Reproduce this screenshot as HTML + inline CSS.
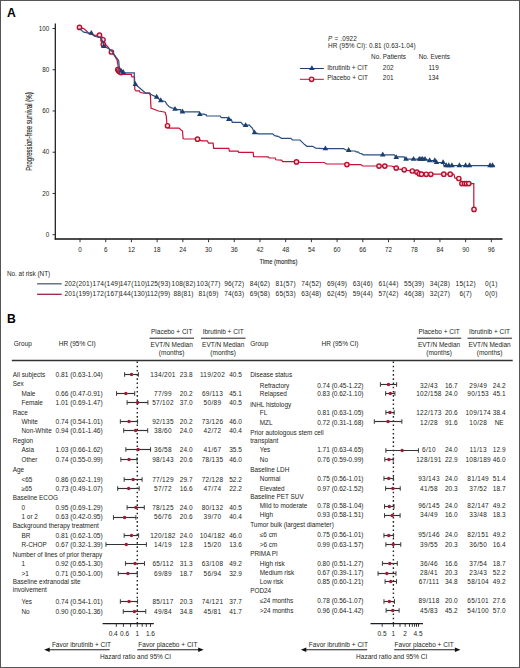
<!DOCTYPE html>
<html><head><meta charset="utf-8"><title>Figure</title>
<style>html,body{margin:0;padding:0;background:#fff;}svg{display:block;}</style>
</head><body>
<svg width="520" height="668" viewBox="0 0 520 668" font-family='"Liberation Sans", sans-serif'><rect x="0.5" y="0.5" width="519" height="667" fill="none" stroke="#555" stroke-width="1"/>
<text x="6.90" y="16.90" font-size="12.2" font-weight="bold" fill="#000">A</text>
<line x1="55.30" y1="23.50" x2="55.30" y2="239.60" stroke="#111" stroke-width="1.2"/>
<line x1="54.70" y1="239.00" x2="502.50" y2="239.00" stroke="#111" stroke-width="1.3"/>
<line x1="52.50" y1="234.70" x2="55.30" y2="234.70" stroke="#231f20" stroke-width="0.9"/>
<text x="49.20" y="236.90" font-size="6.3" text-anchor="end" fill="#231f20">0</text>
<line x1="52.50" y1="193.46" x2="55.30" y2="193.46" stroke="#231f20" stroke-width="0.9"/>
<text x="49.20" y="195.66" font-size="6.3" text-anchor="end" fill="#231f20">20</text>
<line x1="52.50" y1="152.22" x2="55.30" y2="152.22" stroke="#231f20" stroke-width="0.9"/>
<text x="49.20" y="154.42" font-size="6.3" text-anchor="end" fill="#231f20">40</text>
<line x1="52.50" y1="110.98" x2="55.30" y2="110.98" stroke="#231f20" stroke-width="0.9"/>
<text x="49.20" y="113.18" font-size="6.3" text-anchor="end" fill="#231f20">60</text>
<line x1="52.50" y1="69.74" x2="55.30" y2="69.74" stroke="#231f20" stroke-width="0.9"/>
<text x="49.20" y="71.94" font-size="6.3" text-anchor="end" fill="#231f20">80</text>
<line x1="52.50" y1="28.50" x2="55.30" y2="28.50" stroke="#231f20" stroke-width="0.9"/>
<text x="49.20" y="30.70" font-size="6.3" text-anchor="end" fill="#231f20">100</text>
<line x1="80.00" y1="239.00" x2="80.00" y2="242.20" stroke="#231f20" stroke-width="0.9"/>
<text x="80.00" y="252.10" font-size="6.3" text-anchor="middle" fill="#231f20">0</text>
<line x1="105.71" y1="239.00" x2="105.71" y2="242.20" stroke="#231f20" stroke-width="0.9"/>
<text x="105.71" y="252.10" font-size="6.3" text-anchor="middle" fill="#231f20">6</text>
<line x1="131.42" y1="239.00" x2="131.42" y2="242.20" stroke="#231f20" stroke-width="0.9"/>
<text x="131.42" y="252.10" font-size="6.3" text-anchor="middle" fill="#231f20">12</text>
<line x1="157.13" y1="239.00" x2="157.13" y2="242.20" stroke="#231f20" stroke-width="0.9"/>
<text x="157.13" y="252.10" font-size="6.3" text-anchor="middle" fill="#231f20">18</text>
<line x1="182.84" y1="239.00" x2="182.84" y2="242.20" stroke="#231f20" stroke-width="0.9"/>
<text x="182.84" y="252.10" font-size="6.3" text-anchor="middle" fill="#231f20">24</text>
<line x1="208.55" y1="239.00" x2="208.55" y2="242.20" stroke="#231f20" stroke-width="0.9"/>
<text x="208.55" y="252.10" font-size="6.3" text-anchor="middle" fill="#231f20">30</text>
<line x1="234.26" y1="239.00" x2="234.26" y2="242.20" stroke="#231f20" stroke-width="0.9"/>
<text x="234.26" y="252.10" font-size="6.3" text-anchor="middle" fill="#231f20">36</text>
<line x1="259.97" y1="239.00" x2="259.97" y2="242.20" stroke="#231f20" stroke-width="0.9"/>
<text x="259.97" y="252.10" font-size="6.3" text-anchor="middle" fill="#231f20">42</text>
<line x1="285.68" y1="239.00" x2="285.68" y2="242.20" stroke="#231f20" stroke-width="0.9"/>
<text x="285.68" y="252.10" font-size="6.3" text-anchor="middle" fill="#231f20">48</text>
<line x1="311.39" y1="239.00" x2="311.39" y2="242.20" stroke="#231f20" stroke-width="0.9"/>
<text x="311.39" y="252.10" font-size="6.3" text-anchor="middle" fill="#231f20">54</text>
<line x1="337.10" y1="239.00" x2="337.10" y2="242.20" stroke="#231f20" stroke-width="0.9"/>
<text x="337.10" y="252.10" font-size="6.3" text-anchor="middle" fill="#231f20">60</text>
<line x1="362.81" y1="239.00" x2="362.81" y2="242.20" stroke="#231f20" stroke-width="0.9"/>
<text x="362.81" y="252.10" font-size="6.3" text-anchor="middle" fill="#231f20">66</text>
<line x1="388.52" y1="239.00" x2="388.52" y2="242.20" stroke="#231f20" stroke-width="0.9"/>
<text x="388.52" y="252.10" font-size="6.3" text-anchor="middle" fill="#231f20">72</text>
<line x1="414.23" y1="239.00" x2="414.23" y2="242.20" stroke="#231f20" stroke-width="0.9"/>
<text x="414.23" y="252.10" font-size="6.3" text-anchor="middle" fill="#231f20">78</text>
<line x1="439.94" y1="239.00" x2="439.94" y2="242.20" stroke="#231f20" stroke-width="0.9"/>
<text x="439.94" y="252.10" font-size="6.3" text-anchor="middle" fill="#231f20">84</text>
<line x1="465.65" y1="239.00" x2="465.65" y2="242.20" stroke="#231f20" stroke-width="0.9"/>
<text x="465.65" y="252.10" font-size="6.3" text-anchor="middle" fill="#231f20">90</text>
<line x1="491.36" y1="239.00" x2="491.36" y2="242.20" stroke="#231f20" stroke-width="0.9"/>
<text x="491.36" y="252.10" font-size="6.3" text-anchor="middle" fill="#231f20">96</text>
<text x="259.50" y="264.10" font-size="8" textLength="38" lengthAdjust="spacingAndGlyphs" stroke="#231f20" stroke-width="0.12" fill="#231f20">Time (months)</text>
<text x="-39.3" y="0" font-size="8.2" textLength="78.4" lengthAdjust="spacingAndGlyphs" fill="#231f20" stroke="#231f20" stroke-width="0.12" transform="translate(32.0,131.4) rotate(-90)">Progression-free survival (%)</text>
<polyline points="79.5,27.4 83.7,28.6 86.0,30.5 89.0,33.5 94.5,35.3 99.0,35.0 101.0,35.4 102.9,38.3 103.3,42.5 108.0,47.0 111.4,52.0 114.0,55.0 117.0,60.0 118.1,66.0 118.3,70.0 119.2,73.5 121.5,74.4 131.3,74.4 131.9,76.9 134.5,76.9 134.8,89.6 136.0,90.8 139.4,90.8 140.2,92.5 144.0,93.1 149.2,93.1 150.4,95.4 151.0,108.1 153.8,109.2 158.5,111.0 164.2,112.0 165.2,112.5 166.3,116.0 166.9,124.6 169.2,128.1 179.0,128.1 180.8,129.8 182.5,131.0 183.1,138.5 184.2,139.0 197.5,139.0 201.5,140.8 207.3,140.8 208.5,143.1 213.1,143.1 213.7,148.3 228.8,148.3 229.4,151.2 238.1,151.2 238.7,152.3 253.1,152.3 253.7,156.6 268.1,156.9 269.2,158.0 275.2,158.0 275.8,159.8 281.5,160.2 282.7,161.7 296.5,161.7 301.2,162.5 324.2,162.5 326.5,164.0 343.5,164.0 346.9,164.6 360.8,164.6 362.5,166.0 391.5,166.0 393.8,166.9 396.2,168.1 399.6,169.2 404.2,169.8 407.7,170.4 412.3,171.0 416.9,172.1 419.2,173.8 421.5,174.2 453.8,174.2 455.0,178.1 458.8,178.5 460.6,180.0 461.9,183.6 473.8,183.6 473.8,209.0" fill="none" stroke="#c41236" stroke-width="1.2" stroke-linejoin="miter"/>
<circle cx="79.50" cy="27.40" r="2.15" fill="#f8dde3" stroke="#b8102f" stroke-width="1.4"/>
<circle cx="99.50" cy="35.20" r="2.15" fill="#f8dde3" stroke="#b8102f" stroke-width="1.4"/>
<circle cx="103.00" cy="39.80" r="2.15" fill="#f8dde3" stroke="#b8102f" stroke-width="1.4"/>
<circle cx="103.30" cy="44.40" r="2.15" fill="#f8dde3" stroke="#b8102f" stroke-width="1.4"/>
<circle cx="111.40" cy="52.00" r="2.15" fill="#f8dde3" stroke="#b8102f" stroke-width="1.4"/>
<circle cx="117.80" cy="69.50" r="2.15" fill="#f8dde3" stroke="#b8102f" stroke-width="1.4"/>
<circle cx="118.60" cy="70.80" r="2.15" fill="#f8dde3" stroke="#b8102f" stroke-width="1.4"/>
<circle cx="119.80" cy="71.80" r="2.15" fill="#f8dde3" stroke="#b8102f" stroke-width="1.4"/>
<circle cx="121.00" cy="72.60" r="2.15" fill="#f8dde3" stroke="#b8102f" stroke-width="1.4"/>
<circle cx="167.50" cy="125.80" r="2.15" fill="#f8dde3" stroke="#b8102f" stroke-width="1.4"/>
<circle cx="197.50" cy="139.20" r="2.15" fill="#f8dde3" stroke="#b8102f" stroke-width="1.4"/>
<circle cx="296.50" cy="161.90" r="2.15" fill="#f8dde3" stroke="#b8102f" stroke-width="1.4"/>
<circle cx="346.90" cy="164.60" r="2.15" fill="#f8dde3" stroke="#b8102f" stroke-width="1.4"/>
<circle cx="379.00" cy="166.10" r="2.15" fill="#f8dde3" stroke="#b8102f" stroke-width="1.4"/>
<circle cx="384.80" cy="166.10" r="2.15" fill="#f8dde3" stroke="#b8102f" stroke-width="1.4"/>
<circle cx="396.20" cy="168.10" r="2.15" fill="#f8dde3" stroke="#b8102f" stroke-width="1.4"/>
<circle cx="404.20" cy="169.80" r="2.15" fill="#f8dde3" stroke="#b8102f" stroke-width="1.4"/>
<circle cx="412.30" cy="171.00" r="2.15" fill="#f8dde3" stroke="#b8102f" stroke-width="1.4"/>
<circle cx="416.90" cy="172.10" r="2.15" fill="#f8dde3" stroke="#b8102f" stroke-width="1.4"/>
<circle cx="419.20" cy="173.80" r="2.15" fill="#f8dde3" stroke="#b8102f" stroke-width="1.4"/>
<circle cx="421.50" cy="174.20" r="2.15" fill="#f8dde3" stroke="#b8102f" stroke-width="1.4"/>
<circle cx="426.20" cy="174.30" r="2.15" fill="#f8dde3" stroke="#b8102f" stroke-width="1.4"/>
<circle cx="430.80" cy="174.30" r="2.15" fill="#f8dde3" stroke="#b8102f" stroke-width="1.4"/>
<circle cx="443.80" cy="174.20" r="2.15" fill="#f8dde3" stroke="#b8102f" stroke-width="1.4"/>
<circle cx="450.20" cy="174.20" r="2.15" fill="#f8dde3" stroke="#b8102f" stroke-width="1.4"/>
<circle cx="458.80" cy="178.50" r="2.15" fill="#f8dde3" stroke="#b8102f" stroke-width="1.4"/>
<circle cx="461.90" cy="183.60" r="2.15" fill="#f8dde3" stroke="#b8102f" stroke-width="1.4"/>
<circle cx="464.50" cy="183.60" r="2.15" fill="#f8dde3" stroke="#b8102f" stroke-width="1.4"/>
<circle cx="466.50" cy="183.60" r="2.15" fill="#f8dde3" stroke="#b8102f" stroke-width="1.4"/>
<circle cx="468.80" cy="183.60" r="2.15" fill="#f8dde3" stroke="#b8102f" stroke-width="1.4"/>
<circle cx="474.00" cy="209.40" r="2.15" fill="#f8dde3" stroke="#b8102f" stroke-width="1.4"/>
<polyline points="79.5,28.6 83.7,32.1 87.5,32.8 91.3,33.2 94.5,36.3 100.0,37.3 102.9,41.2 103.8,46.0 108.7,48.8 112.5,51.7 114.6,55.0 118.7,60.8 119.2,66.5 120.4,70.0 122.7,71.5 125.0,72.9 134.3,72.9 134.3,83.5 138.8,87.3 143.5,91.3 145.8,93.1 149.8,93.1 151.5,94.8 156.7,97.1 160.8,100.6 165.2,101.5 166.9,104.4 169.2,106.7 171.5,107.9 175.0,108.5 177.3,109.6 180.8,109.6 180.8,111.9 199.2,111.9 199.8,114.2 203.8,114.2 206.2,114.8 206.7,116.0 220.2,116.0 221.3,117.7 227.1,117.7 228.8,119.4 231.2,119.4 232.3,122.3 241.0,122.3 243.3,125.2 249.6,125.2 250.8,126.9 251.9,127.5 253.1,129.8 254.2,132.7 258.8,133.8 272.7,133.8 274.6,135.6 278.1,136.3 281.5,138.3 290.8,138.3 292.5,140.0 300.0,140.0 302.3,142.3 304.6,144.6 306.9,146.3 312.7,146.3 315.6,148.1 323.1,148.7 343.5,148.7 345.8,149.8 351.5,151.0 355.0,151.0 356.2,151.9 358.5,152.1 359.6,153.3 361.9,153.8 363.1,154.8 394.4,154.8 395.6,156.9 404.2,156.9 404.8,159.2 425.0,159.2 429.6,160.6 434.8,160.6 436.5,162.5 443.1,162.5 443.8,165.6 494.8,165.6" fill="none" stroke="#284f84" stroke-width="1.2" stroke-linejoin="miter"/>
<path d="M88.50,34.80 L91.30,29.90 L94.10,34.80Z" fill="#1d3f6f"/>
<path d="M101.00,48.10 L103.80,43.20 L106.60,48.10Z" fill="#1d3f6f"/>
<path d="M118.40,72.80 L121.20,67.90 L124.00,72.80Z" fill="#1d3f6f"/>
<path d="M120.40,73.90 L123.20,69.00 L126.00,73.90Z" fill="#1d3f6f"/>
<path d="M132.60,86.00 L135.40,81.10 L138.20,86.00Z" fill="#1d3f6f"/>
<path d="M153.90,98.70 L156.70,93.80 L159.50,98.70Z" fill="#1d3f6f"/>
<path d="M158.00,102.20 L160.80,97.30 L163.60,102.20Z" fill="#1d3f6f"/>
<path d="M172.20,110.80 L175.00,105.90 L177.80,110.80Z" fill="#1d3f6f"/>
<path d="M179.70,113.50 L182.50,108.60 L185.30,113.50Z" fill="#1d3f6f"/>
<path d="M197.00,116.10 L199.80,111.20 L202.60,116.10Z" fill="#1d3f6f"/>
<path d="M226.00,121.00 L228.80,116.10 L231.60,121.00Z" fill="#1d3f6f"/>
<path d="M242.80,127.10 L245.60,122.20 L248.40,127.10Z" fill="#1d3f6f"/>
<path d="M251.70,134.30 L254.50,129.40 L257.30,134.30Z" fill="#1d3f6f"/>
<path d="M322.60,150.30 L325.40,145.40 L328.20,150.30Z" fill="#1d3f6f"/>
<path d="M345.90,152.00 L348.70,147.10 L351.50,152.00Z" fill="#1d3f6f"/>
<path d="M379.90,156.40 L382.70,151.50 L385.50,156.40Z" fill="#1d3f6f"/>
<path d="M393.40,159.10 L396.20,154.20 L399.00,159.10Z" fill="#1d3f6f"/>
<path d="M403.20,160.80 L406.00,155.90 L408.80,160.80Z" fill="#1d3f6f"/>
<path d="M410.70,160.80 L413.50,155.90 L416.30,160.80Z" fill="#1d3f6f"/>
<path d="M416.40,160.80 L419.20,155.90 L422.00,160.80Z" fill="#1d3f6f"/>
<path d="M418.20,160.80 L421.00,155.90 L423.80,160.80Z" fill="#1d3f6f"/>
<path d="M419.90,160.80 L422.70,155.90 L425.50,160.80Z" fill="#1d3f6f"/>
<path d="M422.20,160.80 L425.00,155.90 L427.80,160.80Z" fill="#1d3f6f"/>
<path d="M426.80,162.20 L429.60,157.30 L432.40,162.20Z" fill="#1d3f6f"/>
<path d="M432.00,162.20 L434.80,157.30 L437.60,162.20Z" fill="#1d3f6f"/>
<path d="M433.70,164.10 L436.50,159.20 L439.30,164.10Z" fill="#1d3f6f"/>
<path d="M440.30,164.10 L443.10,159.20 L445.90,164.10Z" fill="#1d3f6f"/>
<path d="M443.40,167.20 L446.20,162.30 L449.00,167.20Z" fill="#1d3f6f"/>
<path d="M446.00,167.20 L448.80,162.30 L451.60,167.20Z" fill="#1d3f6f"/>
<path d="M449.10,167.20 L451.90,162.30 L454.70,167.20Z" fill="#1d3f6f"/>
<path d="M456.60,167.20 L459.40,162.30 L462.20,167.20Z" fill="#1d3f6f"/>
<path d="M462.80,167.20 L465.60,162.30 L468.40,167.20Z" fill="#1d3f6f"/>
<path d="M466.60,167.20 L469.40,162.30 L472.20,167.20Z" fill="#1d3f6f"/>
<path d="M487.20,167.20 L490.00,162.30 L492.80,167.20Z" fill="#1d3f6f"/>
<path d="M489.70,167.20 L492.50,162.30 L495.30,167.20Z" fill="#1d3f6f"/>
<text x="328.10" y="40.60" font-size="6.4" textLength="28.8" fill="#231f20"><tspan font-style="italic">P</tspan> = .0922</text>
<text x="328.10" y="47.70" font-size="6.4" textLength="87.5" fill="#231f20">HR (95% CI): 0.81 (0.63-1.04)</text>
<text x="371.10" y="59.00" font-size="6.4" fill="#231f20">No. Patients</text>
<text x="418.70" y="59.00" font-size="6.4" fill="#231f20">No. Events</text>
<line x1="299.90" y1="68.50" x2="323.90" y2="68.50" stroke="#1d3d6b" stroke-width="1.0"/>
<path d="M309.10,70.10 L311.90,65.20 L314.70,70.10Z" fill="#1d3f6f"/>
<text x="327.30" y="69.70" font-size="6.4" fill="#231f20">Ibrutinib + CIT</text>
<text x="388.20" y="69.60" font-size="6.4" text-anchor="middle" fill="#231f20">202</text>
<text x="433.60" y="69.60" font-size="6.4" text-anchor="middle" fill="#231f20">119</text>
<line x1="299.90" y1="79.30" x2="323.90" y2="79.30" stroke="#b0183a" stroke-width="1.0"/>
<circle cx="311.60" cy="79.30" r="2.15" fill="#f8dde3" stroke="#b8102f" stroke-width="1.4"/>
<text x="327.30" y="80.00" font-size="6.4" fill="#231f20">Placebo + CIT</text>
<text x="388.20" y="79.80" font-size="6.4" text-anchor="middle" fill="#231f20">201</text>
<text x="433.60" y="79.80" font-size="6.4" text-anchor="middle" fill="#231f20">134</text>
<text x="6.90" y="275.50" font-size="6.4" fill="#231f20">No. at risk (NT)</text>
<line x1="37.10" y1="283.80" x2="61.70" y2="283.80" stroke="#4d6178" stroke-width="1.3"/>
<line x1="37.10" y1="294.30" x2="61.70" y2="294.30" stroke="#a3203f" stroke-width="1.3"/>
<text x="78.40" y="286.20" font-size="6.6" text-anchor="middle" letter-spacing="0.2" fill="#231f20">202(201)</text>
<text x="78.40" y="295.60" font-size="6.6" text-anchor="middle" letter-spacing="0.2" fill="#231f20">201(199)</text>
<text x="106.60" y="286.20" font-size="6.6" text-anchor="middle" letter-spacing="0.2" fill="#231f20">174(149)</text>
<text x="106.60" y="295.60" font-size="6.6" text-anchor="middle" letter-spacing="0.2" fill="#231f20">172(167)</text>
<text x="133.40" y="286.20" font-size="6.6" text-anchor="middle" letter-spacing="0.2" fill="#231f20">147(110)</text>
<text x="133.40" y="295.60" font-size="6.6" text-anchor="middle" letter-spacing="0.2" fill="#231f20">144(130)</text>
<text x="158.60" y="286.20" font-size="6.6" text-anchor="middle" letter-spacing="0.2" fill="#231f20">125(93)</text>
<text x="158.60" y="295.60" font-size="6.6" text-anchor="middle" letter-spacing="0.2" fill="#231f20">112(99)</text>
<text x="183.60" y="286.20" font-size="6.6" text-anchor="middle" letter-spacing="0.2" fill="#231f20">108(82)</text>
<text x="183.60" y="295.60" font-size="6.6" text-anchor="middle" letter-spacing="0.2" fill="#231f20">88(81)</text>
<text x="208.55" y="286.20" font-size="6.6" text-anchor="middle" letter-spacing="0.2" fill="#231f20">103(77)</text>
<text x="208.55" y="295.60" font-size="6.6" text-anchor="middle" letter-spacing="0.2" fill="#231f20">81(69)</text>
<text x="234.26" y="286.20" font-size="6.6" text-anchor="middle" letter-spacing="0.2" fill="#231f20">96(72)</text>
<text x="234.26" y="295.60" font-size="6.6" text-anchor="middle" letter-spacing="0.2" fill="#231f20">74(63)</text>
<text x="259.97" y="286.20" font-size="6.6" text-anchor="middle" letter-spacing="0.2" fill="#231f20">84(62)</text>
<text x="259.97" y="295.60" font-size="6.6" text-anchor="middle" letter-spacing="0.2" fill="#231f20">69(58)</text>
<text x="285.68" y="286.20" font-size="6.6" text-anchor="middle" letter-spacing="0.2" fill="#231f20">81(57)</text>
<text x="285.68" y="295.60" font-size="6.6" text-anchor="middle" letter-spacing="0.2" fill="#231f20">65(53)</text>
<text x="311.39" y="286.20" font-size="6.6" text-anchor="middle" letter-spacing="0.2" fill="#231f20">74(52)</text>
<text x="311.39" y="295.60" font-size="6.6" text-anchor="middle" letter-spacing="0.2" fill="#231f20">63(48)</text>
<text x="337.10" y="286.20" font-size="6.6" text-anchor="middle" letter-spacing="0.2" fill="#231f20">69(49)</text>
<text x="337.10" y="295.60" font-size="6.6" text-anchor="middle" letter-spacing="0.2" fill="#231f20">62(45)</text>
<text x="362.81" y="286.20" font-size="6.6" text-anchor="middle" letter-spacing="0.2" fill="#231f20">63(46)</text>
<text x="362.81" y="295.60" font-size="6.6" text-anchor="middle" letter-spacing="0.2" fill="#231f20">59(44)</text>
<text x="388.52" y="286.20" font-size="6.6" text-anchor="middle" letter-spacing="0.2" fill="#231f20">61(44)</text>
<text x="388.52" y="295.60" font-size="6.6" text-anchor="middle" letter-spacing="0.2" fill="#231f20">57(42)</text>
<text x="414.23" y="286.20" font-size="6.6" text-anchor="middle" letter-spacing="0.2" fill="#231f20">55(39)</text>
<text x="414.23" y="295.60" font-size="6.6" text-anchor="middle" letter-spacing="0.2" fill="#231f20">46(38)</text>
<text x="439.94" y="286.20" font-size="6.6" text-anchor="middle" letter-spacing="0.2" fill="#231f20">34(28)</text>
<text x="439.94" y="295.60" font-size="6.6" text-anchor="middle" letter-spacing="0.2" fill="#231f20">32(27)</text>
<text x="465.65" y="286.20" font-size="6.6" text-anchor="middle" letter-spacing="0.2" fill="#231f20">15(12)</text>
<text x="465.65" y="295.60" font-size="6.6" text-anchor="middle" letter-spacing="0.2" fill="#231f20">6(7)</text>
<text x="491.36" y="286.20" font-size="6.6" text-anchor="middle" letter-spacing="0.2" fill="#231f20">0(1)</text>
<text x="491.36" y="295.60" font-size="6.6" text-anchor="middle" letter-spacing="0.2" fill="#231f20">0(0)</text>
<text x="7.10" y="322.90" font-size="12.2" font-weight="bold" fill="#000">B</text>
<text x="13.80" y="346.20" font-size="6.5" fill="#231f20">Group</text>
<text x="58.80" y="346.20" font-size="6.5" fill="#231f20">HR (95% CI)</text>
<text x="171.70" y="334.30" font-size="6.5" text-anchor="middle" fill="#231f20">Placebo + CIT</text>
<text x="223.20" y="334.30" font-size="6.5" text-anchor="middle" fill="#231f20">Ibrutinib + CIT</text>
<line x1="149.50" y1="338.20" x2="194.00" y2="338.20" stroke="#231f20" stroke-width="1.0"/>
<line x1="201.00" y1="338.20" x2="245.50" y2="338.20" stroke="#231f20" stroke-width="1.0"/>
<text x="171.70" y="346.60" font-size="6.5" text-anchor="middle" fill="#231f20">EVT/N Median</text>
<text x="223.20" y="346.60" font-size="6.5" text-anchor="middle" fill="#231f20">EVT/N Median</text>
<text x="171.70" y="354.60" font-size="6.5" text-anchor="middle" fill="#231f20">(months)</text>
<text x="223.20" y="354.60" font-size="6.5" text-anchor="middle" fill="#231f20">(months)</text>
<text x="250.20" y="346.20" font-size="6.5" fill="#231f20">Group</text>
<text x="321.60" y="346.20" font-size="6.5" fill="#231f20">HR (95% CI)</text>
<text x="439.10" y="334.30" font-size="6.5" text-anchor="middle" fill="#231f20">Placebo + CIT</text>
<text x="489.60" y="334.30" font-size="6.5" text-anchor="middle" fill="#231f20">Ibrutinib + CIT</text>
<line x1="416.90" y1="338.20" x2="461.30" y2="338.20" stroke="#231f20" stroke-width="1.0"/>
<line x1="467.50" y1="338.20" x2="512.00" y2="338.20" stroke="#231f20" stroke-width="1.0"/>
<text x="439.10" y="346.60" font-size="6.5" text-anchor="middle" fill="#231f20">EVT/N Median</text>
<text x="489.60" y="346.60" font-size="6.5" text-anchor="middle" fill="#231f20">EVT/N Median</text>
<text x="439.10" y="354.60" font-size="6.5" text-anchor="middle" fill="#231f20">(months)</text>
<text x="489.60" y="354.60" font-size="6.5" text-anchor="middle" fill="#231f20">(months)</text>
<line x1="11.80" y1="360.50" x2="512.70" y2="360.50" stroke="#333" stroke-width="1.4"/>
<line x1="137.30" y1="361.50" x2="137.30" y2="623.50" stroke="#222" stroke-width="1.4" stroke-dasharray="1.6,2.6"/>
<text x="12.80" y="376.70" font-size="6.4" fill="#231f20">All subjects</text>
<text x="55.50" y="376.70" font-size="6.65" fill="#231f20">0.81 (0.63-1.04)</text>
<line x1="124.59" y1="374.50" x2="138.38" y2="374.50" stroke="#333" stroke-width="1.15"/>
<line x1="124.59" y1="372.20" x2="124.59" y2="376.80" stroke="#3a3a3a" stroke-width="1.0"/>
<line x1="138.38" y1="372.20" x2="138.38" y2="376.80" stroke="#3a3a3a" stroke-width="1.0"/>
<circle cx="131.51" cy="374.50" r="1.7" fill="#9e1a36"/>
<text x="163.00" y="376.70" font-size="6.5" text-anchor="middle" letter-spacing="0.3" fill="#231f20">134/201</text>
<text x="186.20" y="376.70" font-size="6.5" text-anchor="middle" fill="#231f20">23.8</text>
<text x="212.50" y="376.70" font-size="6.5" text-anchor="middle" letter-spacing="0.3" fill="#231f20">119/202</text>
<text x="235.50" y="376.70" font-size="6.5" text-anchor="middle" fill="#231f20">40.5</text>
<text x="12.80" y="386.30" font-size="6.4" fill="#231f20">Sex</text>
<text x="21.50" y="395.70" font-size="6.4" fill="#231f20">Male</text>
<text x="55.50" y="395.70" font-size="6.65" fill="#231f20">0.66 (0.47-0.91)</text>
<line x1="116.54" y1="393.50" x2="134.71" y2="393.50" stroke="#333" stroke-width="1.15"/>
<line x1="116.54" y1="391.20" x2="116.54" y2="395.80" stroke="#3a3a3a" stroke-width="1.0"/>
<line x1="134.71" y1="391.20" x2="134.71" y2="395.80" stroke="#3a3a3a" stroke-width="1.0"/>
<circle cx="125.87" cy="393.50" r="1.7" fill="#9e1a36"/>
<text x="163.00" y="395.70" font-size="6.5" text-anchor="middle" letter-spacing="0.3" fill="#231f20">77/99</text>
<text x="186.20" y="395.70" font-size="6.5" text-anchor="middle" fill="#231f20">20.2</text>
<text x="212.50" y="395.70" font-size="6.5" text-anchor="middle" letter-spacing="0.3" fill="#231f20">69/113</text>
<text x="235.50" y="395.70" font-size="6.5" text-anchor="middle" fill="#231f20">45.1</text>
<text x="21.50" y="404.70" font-size="6.4" fill="#231f20">Female</text>
<text x="55.50" y="404.70" font-size="6.65" fill="#231f20">1.01 (0.69-1.47)</text>
<line x1="127.10" y1="402.50" x2="147.89" y2="402.50" stroke="#333" stroke-width="1.15"/>
<line x1="127.10" y1="400.20" x2="127.10" y2="404.80" stroke="#3a3a3a" stroke-width="1.0"/>
<line x1="147.89" y1="400.20" x2="147.89" y2="404.80" stroke="#3a3a3a" stroke-width="1.0"/>
<circle cx="137.57" cy="402.50" r="1.7" fill="#9e1a36"/>
<text x="163.00" y="404.70" font-size="6.5" text-anchor="middle" letter-spacing="0.3" fill="#231f20">57/102</text>
<text x="186.20" y="404.70" font-size="6.5" text-anchor="middle" fill="#231f20">37.0</text>
<text x="212.50" y="404.70" font-size="6.5" text-anchor="middle" letter-spacing="0.3" fill="#231f20">50/89</text>
<text x="235.50" y="404.70" font-size="6.5" text-anchor="middle" fill="#231f20">40.5</text>
<text x="12.80" y="414.50" font-size="6.4" fill="#231f20">Race</text>
<text x="21.50" y="423.50" font-size="6.4" fill="#231f20">White</text>
<text x="55.50" y="423.50" font-size="6.65" fill="#231f20">0.74 (0.54-1.01)</text>
<line x1="120.35" y1="421.50" x2="137.57" y2="421.50" stroke="#333" stroke-width="1.15"/>
<line x1="120.35" y1="419.20" x2="120.35" y2="423.80" stroke="#3a3a3a" stroke-width="1.0"/>
<line x1="137.57" y1="419.20" x2="137.57" y2="423.80" stroke="#3a3a3a" stroke-width="1.0"/>
<circle cx="129.02" cy="421.50" r="1.7" fill="#9e1a36"/>
<text x="163.00" y="423.50" font-size="6.5" text-anchor="middle" letter-spacing="0.3" fill="#231f20">92/135</text>
<text x="186.20" y="423.50" font-size="6.5" text-anchor="middle" fill="#231f20">20.2</text>
<text x="212.50" y="423.50" font-size="6.5" text-anchor="middle" letter-spacing="0.3" fill="#231f20">73/126</text>
<text x="235.50" y="423.50" font-size="6.5" text-anchor="middle" fill="#231f20">46.0</text>
<text x="21.50" y="432.80" font-size="6.4" fill="#231f20">Non-White</text>
<text x="55.50" y="432.80" font-size="6.65" fill="#231f20">0.94 (0.61-1.46)</text>
<line x1="123.71" y1="430.50" x2="147.71" y2="430.50" stroke="#333" stroke-width="1.15"/>
<line x1="123.71" y1="428.20" x2="123.71" y2="432.80" stroke="#3a3a3a" stroke-width="1.0"/>
<line x1="147.71" y1="428.20" x2="147.71" y2="432.80" stroke="#3a3a3a" stroke-width="1.0"/>
<circle cx="135.60" cy="430.50" r="1.7" fill="#9e1a36"/>
<text x="163.00" y="432.80" font-size="6.5" text-anchor="middle" letter-spacing="0.3" fill="#231f20">38/60</text>
<text x="186.20" y="432.80" font-size="6.5" text-anchor="middle" fill="#231f20">24.0</text>
<text x="212.50" y="432.80" font-size="6.5" text-anchor="middle" letter-spacing="0.3" fill="#231f20">42/72</text>
<text x="235.50" y="432.80" font-size="6.5" text-anchor="middle" fill="#231f20">40.4</text>
<text x="12.80" y="442.60" font-size="6.4" fill="#231f20">Region</text>
<text x="21.50" y="452.00" font-size="6.4" fill="#231f20">Asia</text>
<text x="55.50" y="452.00" font-size="6.65" fill="#231f20">1.03 (0.66-1.62)</text>
<line x1="125.87" y1="449.50" x2="150.57" y2="449.50" stroke="#333" stroke-width="1.15"/>
<line x1="125.87" y1="447.20" x2="125.87" y2="451.80" stroke="#3a3a3a" stroke-width="1.0"/>
<line x1="150.57" y1="447.20" x2="150.57" y2="451.80" stroke="#3a3a3a" stroke-width="1.0"/>
<circle cx="138.11" cy="449.50" r="1.7" fill="#9e1a36"/>
<text x="163.00" y="452.00" font-size="6.5" text-anchor="middle" letter-spacing="0.3" fill="#231f20">36/58</text>
<text x="186.20" y="452.00" font-size="6.5" text-anchor="middle" fill="#231f20">24.0</text>
<text x="212.50" y="452.00" font-size="6.5" text-anchor="middle" letter-spacing="0.3" fill="#231f20">41/67</text>
<text x="235.50" y="452.00" font-size="6.5" text-anchor="middle" fill="#231f20">35.5</text>
<text x="21.50" y="461.90" font-size="6.4" fill="#231f20">Other</text>
<text x="55.50" y="461.90" font-size="6.65" fill="#231f20">0.74 (0.55-0.99)</text>
<line x1="120.86" y1="459.50" x2="137.02" y2="459.50" stroke="#333" stroke-width="1.15"/>
<line x1="120.86" y1="457.20" x2="120.86" y2="461.80" stroke="#3a3a3a" stroke-width="1.0"/>
<line x1="137.02" y1="457.20" x2="137.02" y2="461.80" stroke="#3a3a3a" stroke-width="1.0"/>
<circle cx="129.02" cy="459.50" r="1.7" fill="#9e1a36"/>
<text x="163.00" y="461.90" font-size="6.5" text-anchor="middle" letter-spacing="0.3" fill="#231f20">98/143</text>
<text x="186.20" y="461.90" font-size="6.5" text-anchor="middle" fill="#231f20">20.6</text>
<text x="212.50" y="461.90" font-size="6.5" text-anchor="middle" letter-spacing="0.3" fill="#231f20">78/135</text>
<text x="235.50" y="461.90" font-size="6.5" text-anchor="middle" fill="#231f20">46.0</text>
<text x="12.80" y="472.10" font-size="6.4" fill="#231f20">Age</text>
<text x="21.50" y="481.90" font-size="6.4" fill="#231f20">&lt;65</text>
<text x="55.50" y="481.90" font-size="6.65" fill="#231f20">0.86 (0.62-1.19)</text>
<line x1="124.15" y1="479.50" x2="142.08" y2="479.50" stroke="#333" stroke-width="1.15"/>
<line x1="124.15" y1="477.20" x2="124.15" y2="481.80" stroke="#3a3a3a" stroke-width="1.0"/>
<line x1="142.08" y1="477.20" x2="142.08" y2="481.80" stroke="#3a3a3a" stroke-width="1.0"/>
<circle cx="133.15" cy="479.50" r="1.7" fill="#9e1a36"/>
<text x="163.00" y="481.90" font-size="6.5" text-anchor="middle" letter-spacing="0.3" fill="#231f20">77/129</text>
<text x="186.20" y="481.90" font-size="6.5" text-anchor="middle" fill="#231f20">29.7</text>
<text x="212.50" y="481.90" font-size="6.5" text-anchor="middle" letter-spacing="0.3" fill="#231f20">72/128</text>
<text x="235.50" y="481.90" font-size="6.5" text-anchor="middle" fill="#231f20">52.2</text>
<text x="21.50" y="491.00" font-size="6.4" fill="#231f20">≥65</text>
<text x="55.50" y="491.00" font-size="6.65" fill="#231f20">0.73 (0.49-1.07)</text>
<line x1="117.68" y1="488.50" x2="139.16" y2="488.50" stroke="#333" stroke-width="1.15"/>
<line x1="117.68" y1="486.20" x2="117.68" y2="490.80" stroke="#3a3a3a" stroke-width="1.0"/>
<line x1="139.16" y1="486.20" x2="139.16" y2="490.80" stroke="#3a3a3a" stroke-width="1.0"/>
<circle cx="128.65" cy="488.50" r="1.7" fill="#9e1a36"/>
<text x="163.00" y="491.00" font-size="6.5" text-anchor="middle" letter-spacing="0.3" fill="#231f20">57/72</text>
<text x="186.20" y="491.00" font-size="6.5" text-anchor="middle" fill="#231f20">16.6</text>
<text x="212.50" y="491.00" font-size="6.5" text-anchor="middle" letter-spacing="0.3" fill="#231f20">47/74</text>
<text x="235.50" y="491.00" font-size="6.5" text-anchor="middle" fill="#231f20">22.2</text>
<text x="12.80" y="500.20" font-size="6.4" fill="#231f20">Baseline ECOG</text>
<text x="21.50" y="509.70" font-size="6.4" fill="#231f20">0</text>
<text x="55.50" y="509.70" font-size="6.65" fill="#231f20">0.95 (0.69-1.29)</text>
<line x1="127.10" y1="507.50" x2="144.30" y2="507.50" stroke="#333" stroke-width="1.15"/>
<line x1="127.10" y1="505.20" x2="127.10" y2="509.80" stroke="#3a3a3a" stroke-width="1.0"/>
<line x1="144.30" y1="505.20" x2="144.30" y2="509.80" stroke="#3a3a3a" stroke-width="1.0"/>
<circle cx="135.89" cy="507.50" r="1.7" fill="#9e1a36"/>
<text x="163.00" y="509.70" font-size="6.5" text-anchor="middle" letter-spacing="0.3" fill="#231f20">78/125</text>
<text x="186.20" y="509.70" font-size="6.5" text-anchor="middle" fill="#231f20">24.0</text>
<text x="212.50" y="509.70" font-size="6.5" text-anchor="middle" letter-spacing="0.3" fill="#231f20">80/132</text>
<text x="235.50" y="509.70" font-size="6.5" text-anchor="middle" fill="#231f20">40.5</text>
<text x="21.50" y="519.40" font-size="6.4" fill="#231f20">1 or 2</text>
<text x="55.50" y="519.40" font-size="6.65" fill="#231f20">0.63 (0.42-0.95)</text>
<line x1="113.44" y1="517.50" x2="135.89" y2="517.50" stroke="#333" stroke-width="1.15"/>
<line x1="113.44" y1="515.20" x2="113.44" y2="519.80" stroke="#3a3a3a" stroke-width="1.0"/>
<line x1="135.89" y1="515.20" x2="135.89" y2="519.80" stroke="#3a3a3a" stroke-width="1.0"/>
<circle cx="124.59" cy="517.50" r="1.7" fill="#9e1a36"/>
<text x="163.00" y="519.40" font-size="6.5" text-anchor="middle" letter-spacing="0.3" fill="#231f20">56/76</text>
<text x="186.20" y="519.40" font-size="6.5" text-anchor="middle" fill="#231f20">20.6</text>
<text x="212.50" y="519.40" font-size="6.5" text-anchor="middle" letter-spacing="0.3" fill="#231f20">39/70</text>
<text x="235.50" y="519.40" font-size="6.5" text-anchor="middle" fill="#231f20">40.4</text>
<text x="12.80" y="528.20" font-size="6.4" fill="#231f20">Background therapy treatment</text>
<text x="21.50" y="537.70" font-size="6.4" fill="#231f20">BR</text>
<text x="55.50" y="537.70" font-size="6.65" fill="#231f20">0.81 (0.62-1.05)</text>
<line x1="124.15" y1="535.50" x2="138.64" y2="535.50" stroke="#333" stroke-width="1.15"/>
<line x1="124.15" y1="533.20" x2="124.15" y2="537.80" stroke="#3a3a3a" stroke-width="1.0"/>
<line x1="138.64" y1="533.20" x2="138.64" y2="537.80" stroke="#3a3a3a" stroke-width="1.0"/>
<circle cx="131.51" cy="535.50" r="1.7" fill="#9e1a36"/>
<text x="163.00" y="537.70" font-size="6.5" text-anchor="middle" letter-spacing="0.3" fill="#231f20">120/182</text>
<text x="186.20" y="537.70" font-size="6.5" text-anchor="middle" fill="#231f20">24.0</text>
<text x="212.50" y="537.70" font-size="6.5" text-anchor="middle" letter-spacing="0.3" fill="#231f20">104/182</text>
<text x="235.50" y="537.70" font-size="6.5" text-anchor="middle" fill="#231f20">46.0</text>
<text x="21.50" y="547.20" font-size="6.4" fill="#231f20">R-CHOP</text>
<text x="55.50" y="547.20" font-size="6.65" fill="#231f20">0.67 (0.32-1.39)</text>
<line x1="105.97" y1="544.50" x2="146.36" y2="544.50" stroke="#333" stroke-width="1.15"/>
<line x1="105.97" y1="542.20" x2="105.97" y2="546.80" stroke="#3a3a3a" stroke-width="1.0"/>
<line x1="146.36" y1="542.20" x2="146.36" y2="546.80" stroke="#3a3a3a" stroke-width="1.0"/>
<circle cx="126.29" cy="544.50" r="1.7" fill="#9e1a36"/>
<text x="163.00" y="547.20" font-size="6.5" text-anchor="middle" letter-spacing="0.3" fill="#231f20">14/19</text>
<text x="186.20" y="547.20" font-size="6.5" text-anchor="middle" fill="#231f20">12.8</text>
<text x="212.50" y="547.20" font-size="6.5" text-anchor="middle" letter-spacing="0.3" fill="#231f20">15/20</text>
<text x="235.50" y="547.20" font-size="6.5" text-anchor="middle" fill="#231f20">13.6</text>
<text x="12.80" y="556.50" font-size="6.4" fill="#231f20">Number of lines of prior therapy</text>
<text x="21.50" y="565.90" font-size="6.4" fill="#231f20">1</text>
<text x="55.50" y="565.90" font-size="6.65" fill="#231f20">0.92 (0.65-1.30)</text>
<line x1="125.45" y1="563.50" x2="144.52" y2="563.50" stroke="#333" stroke-width="1.15"/>
<line x1="125.45" y1="561.20" x2="125.45" y2="565.80" stroke="#3a3a3a" stroke-width="1.0"/>
<line x1="144.52" y1="561.20" x2="144.52" y2="565.80" stroke="#3a3a3a" stroke-width="1.0"/>
<circle cx="135.01" cy="563.50" r="1.7" fill="#9e1a36"/>
<text x="163.00" y="565.90" font-size="6.5" text-anchor="middle" letter-spacing="0.3" fill="#231f20">65/112</text>
<text x="186.20" y="565.90" font-size="6.5" text-anchor="middle" fill="#231f20">31.3</text>
<text x="212.50" y="565.90" font-size="6.5" text-anchor="middle" letter-spacing="0.3" fill="#231f20">63/108</text>
<text x="235.50" y="565.90" font-size="6.5" text-anchor="middle" fill="#231f20">49.2</text>
<text x="21.50" y="575.50" font-size="6.4" fill="#231f20">&gt;1</text>
<text x="55.50" y="575.50" font-size="6.65" fill="#231f20">0.71 (0.50-1.00)</text>
<line x1="118.24" y1="573.50" x2="137.30" y2="573.50" stroke="#333" stroke-width="1.15"/>
<line x1="118.24" y1="571.20" x2="118.24" y2="575.80" stroke="#3a3a3a" stroke-width="1.0"/>
<line x1="137.30" y1="571.20" x2="137.30" y2="575.80" stroke="#3a3a3a" stroke-width="1.0"/>
<circle cx="127.88" cy="573.50" r="1.7" fill="#9e1a36"/>
<text x="163.00" y="575.50" font-size="6.5" text-anchor="middle" letter-spacing="0.3" fill="#231f20">69/89</text>
<text x="186.20" y="575.50" font-size="6.5" text-anchor="middle" fill="#231f20">18.7</text>
<text x="212.50" y="575.50" font-size="6.5" text-anchor="middle" letter-spacing="0.3" fill="#231f20">56/94</text>
<text x="235.50" y="575.50" font-size="6.5" text-anchor="middle" fill="#231f20">32.9</text>
<text x="12.80" y="584.40" font-size="6.4" fill="#231f20">Baseline extranodal site</text>
<text x="12.80" y="591.90" font-size="6.4" fill="#231f20">involvement</text>
<text x="21.50" y="604.10" font-size="6.4" fill="#231f20">Yes</text>
<text x="55.50" y="604.10" font-size="6.65" fill="#231f20">0.74 (0.54-1.01)</text>
<line x1="120.35" y1="601.50" x2="137.57" y2="601.50" stroke="#333" stroke-width="1.15"/>
<line x1="120.35" y1="599.20" x2="120.35" y2="603.80" stroke="#3a3a3a" stroke-width="1.0"/>
<line x1="137.57" y1="599.20" x2="137.57" y2="603.80" stroke="#3a3a3a" stroke-width="1.0"/>
<circle cx="129.02" cy="601.50" r="1.7" fill="#9e1a36"/>
<text x="163.00" y="604.10" font-size="6.5" text-anchor="middle" letter-spacing="0.3" fill="#231f20">85/117</text>
<text x="186.20" y="604.10" font-size="6.5" text-anchor="middle" fill="#231f20">20.3</text>
<text x="212.50" y="604.10" font-size="6.5" text-anchor="middle" letter-spacing="0.3" fill="#231f20">74/121</text>
<text x="235.50" y="604.10" font-size="6.5" text-anchor="middle" fill="#231f20">37.7</text>
<text x="21.50" y="613.90" font-size="6.4" fill="#231f20">No</text>
<text x="55.50" y="613.90" font-size="6.65" fill="#231f20">0.90 (0.60-1.36)</text>
<line x1="123.25" y1="611.50" x2="145.76" y2="611.50" stroke="#333" stroke-width="1.15"/>
<line x1="123.25" y1="609.20" x2="123.25" y2="613.80" stroke="#3a3a3a" stroke-width="1.0"/>
<line x1="145.76" y1="609.20" x2="145.76" y2="613.80" stroke="#3a3a3a" stroke-width="1.0"/>
<circle cx="134.40" cy="611.50" r="1.7" fill="#9e1a36"/>
<text x="163.00" y="613.90" font-size="6.5" text-anchor="middle" letter-spacing="0.3" fill="#231f20">49/84</text>
<text x="186.20" y="613.90" font-size="6.5" text-anchor="middle" fill="#231f20">34.8</text>
<text x="212.50" y="613.90" font-size="6.5" text-anchor="middle" letter-spacing="0.3" fill="#231f20">45/81</text>
<text x="235.50" y="613.90" font-size="6.5" text-anchor="middle" fill="#231f20">41.7</text>
<line x1="393.40" y1="361.50" x2="393.40" y2="623.50" stroke="#222" stroke-width="1.4" stroke-dasharray="1.6,2.6"/>
<text x="250.20" y="376.50" font-size="6.4" fill="#231f20">Disease status</text>
<text x="259.80" y="387.80" font-size="6.4" fill="#231f20">Refractory</text>
<text x="317.20" y="387.80" font-size="6.5" fill="#231f20">0.74 (0.45-1.22)</text>
<line x1="380.38" y1="384.50" x2="396.64" y2="384.50" stroke="#333" stroke-width="1.15"/>
<line x1="380.38" y1="382.20" x2="380.38" y2="386.80" stroke="#3a3a3a" stroke-width="1.0"/>
<line x1="396.64" y1="382.20" x2="396.64" y2="386.80" stroke="#3a3a3a" stroke-width="1.0"/>
<circle cx="388.49" cy="384.50" r="1.7" fill="#9e1a36"/>
<text x="429.00" y="387.80" font-size="6.5" text-anchor="middle" letter-spacing="0.3" fill="#231f20">32/43</text>
<text x="451.30" y="387.80" font-size="6.5" text-anchor="middle" fill="#231f20">16.7</text>
<text x="478.20" y="387.80" font-size="6.5" text-anchor="middle" letter-spacing="0.3" fill="#231f20">29/49</text>
<text x="499.20" y="387.80" font-size="6.5" text-anchor="middle" fill="#231f20">24.2</text>
<text x="259.80" y="396.40" font-size="6.4" fill="#231f20">Relapsed</text>
<text x="317.20" y="396.40" font-size="6.5" fill="#231f20">0.83 (0.62-1.10)</text>
<line x1="385.61" y1="393.50" x2="394.95" y2="393.50" stroke="#333" stroke-width="1.15"/>
<line x1="385.61" y1="391.20" x2="385.61" y2="395.80" stroke="#3a3a3a" stroke-width="1.0"/>
<line x1="394.95" y1="391.20" x2="394.95" y2="395.80" stroke="#3a3a3a" stroke-width="1.0"/>
<circle cx="390.36" cy="393.50" r="1.7" fill="#9e1a36"/>
<text x="429.00" y="396.40" font-size="6.5" text-anchor="middle" letter-spacing="0.3" fill="#231f20">102/158</text>
<text x="451.30" y="396.40" font-size="6.5" text-anchor="middle" fill="#231f20">24.0</text>
<text x="478.20" y="396.40" font-size="6.5" text-anchor="middle" letter-spacing="0.3" fill="#231f20">90/153</text>
<text x="499.20" y="396.40" font-size="6.5" text-anchor="middle" fill="#231f20">45.1</text>
<text x="250.20" y="406.50" font-size="6.4" fill="#231f20">iNHL histology</text>
<text x="259.80" y="415.30" font-size="6.4" fill="#231f20">FL</text>
<text x="317.20" y="415.30" font-size="6.5" fill="#231f20">0.81 (0.63-1.05)</text>
<line x1="385.87" y1="412.50" x2="394.20" y2="412.50" stroke="#333" stroke-width="1.15"/>
<line x1="385.87" y1="410.20" x2="385.87" y2="414.80" stroke="#3a3a3a" stroke-width="1.0"/>
<line x1="394.20" y1="410.20" x2="394.20" y2="414.80" stroke="#3a3a3a" stroke-width="1.0"/>
<circle cx="389.97" cy="412.50" r="1.7" fill="#9e1a36"/>
<text x="429.00" y="415.30" font-size="6.5" text-anchor="middle" letter-spacing="0.3" fill="#231f20">122/173</text>
<text x="451.30" y="415.30" font-size="6.5" text-anchor="middle" fill="#231f20">20.6</text>
<text x="478.20" y="415.30" font-size="6.5" text-anchor="middle" letter-spacing="0.3" fill="#231f20">109/174</text>
<text x="499.20" y="415.30" font-size="6.5" text-anchor="middle" fill="#231f20">38.4</text>
<text x="259.80" y="424.50" font-size="6.4" fill="#231f20">MZL</text>
<text x="317.20" y="424.50" font-size="6.5" fill="#231f20">0.72 (0.31-1.68)</text>
<line x1="374.31" y1="421.50" x2="401.86" y2="421.50" stroke="#333" stroke-width="1.15"/>
<line x1="374.31" y1="419.20" x2="374.31" y2="423.80" stroke="#3a3a3a" stroke-width="1.0"/>
<line x1="401.86" y1="419.20" x2="401.86" y2="423.80" stroke="#3a3a3a" stroke-width="1.0"/>
<circle cx="388.05" cy="421.50" r="1.7" fill="#9e1a36"/>
<text x="429.00" y="424.50" font-size="6.5" text-anchor="middle" letter-spacing="0.3" fill="#231f20">12/28</text>
<text x="451.30" y="424.50" font-size="6.5" text-anchor="middle" fill="#231f20">91.6</text>
<text x="478.20" y="424.50" font-size="6.5" text-anchor="middle" letter-spacing="0.3" fill="#231f20">10/28</text>
<text x="499.20" y="424.50" font-size="6.5" text-anchor="middle" fill="#231f20">NE</text>
<text x="250.20" y="434.50" font-size="6.4" fill="#231f20">Prior autologous stem cell</text>
<text x="250.20" y="442.50" font-size="6.4" fill="#231f20">transplant</text>
<text x="259.80" y="452.30" font-size="6.4" fill="#231f20">Yes</text>
<text x="317.20" y="452.30" font-size="6.5" fill="#231f20">1.71 (0.63-4.65)</text>
<line x1="385.87" y1="450.50" x2="418.45" y2="450.50" stroke="#333" stroke-width="1.15"/>
<line x1="385.87" y1="448.20" x2="385.87" y2="452.80" stroke="#3a3a3a" stroke-width="1.0"/>
<line x1="418.45" y1="448.20" x2="418.45" y2="452.80" stroke="#3a3a3a" stroke-width="1.0"/>
<circle cx="402.14" cy="450.50" r="1.7" fill="#9e1a36"/>
<text x="429.00" y="452.30" font-size="6.5" text-anchor="middle" letter-spacing="0.3" fill="#231f20">6/10</text>
<text x="451.30" y="452.30" font-size="6.5" text-anchor="middle" fill="#231f20">24.0</text>
<text x="478.20" y="452.30" font-size="6.5" text-anchor="middle" letter-spacing="0.3" fill="#231f20">11/13</text>
<text x="499.20" y="452.30" font-size="6.5" text-anchor="middle" fill="#231f20">12.9</text>
<text x="259.80" y="462.40" font-size="6.4" fill="#231f20">No</text>
<text x="317.20" y="462.40" font-size="6.5" fill="#231f20">0.76 (0.59-0.99)</text>
<line x1="384.80" y1="459.50" x2="393.24" y2="459.50" stroke="#333" stroke-width="1.15"/>
<line x1="384.80" y1="457.20" x2="384.80" y2="461.80" stroke="#3a3a3a" stroke-width="1.0"/>
<line x1="393.24" y1="457.20" x2="393.24" y2="461.80" stroke="#3a3a3a" stroke-width="1.0"/>
<circle cx="388.93" cy="459.50" r="1.7" fill="#9e1a36"/>
<text x="429.00" y="462.40" font-size="6.5" text-anchor="middle" letter-spacing="0.3" fill="#231f20">128/191</text>
<text x="451.30" y="462.40" font-size="6.5" text-anchor="middle" fill="#231f20">22.9</text>
<text x="478.20" y="462.40" font-size="6.5" text-anchor="middle" letter-spacing="0.3" fill="#231f20">108/189</text>
<text x="499.20" y="462.40" font-size="6.5" text-anchor="middle" fill="#231f20">46.0</text>
<text x="250.20" y="471.60" font-size="6.4" fill="#231f20">Baseline LDH</text>
<text x="259.80" y="480.70" font-size="6.4" fill="#231f20">Normal</text>
<text x="317.20" y="480.70" font-size="6.5" fill="#231f20">0.75 (0.56-1.01)</text>
<line x1="383.95" y1="478.50" x2="393.56" y2="478.50" stroke="#333" stroke-width="1.15"/>
<line x1="383.95" y1="476.20" x2="383.95" y2="480.80" stroke="#3a3a3a" stroke-width="1.0"/>
<line x1="393.56" y1="476.20" x2="393.56" y2="480.80" stroke="#3a3a3a" stroke-width="1.0"/>
<circle cx="388.71" cy="478.50" r="1.7" fill="#9e1a36"/>
<text x="429.00" y="480.70" font-size="6.5" text-anchor="middle" letter-spacing="0.3" fill="#231f20">93/143</text>
<text x="451.30" y="480.70" font-size="6.5" text-anchor="middle" fill="#231f20">24.0</text>
<text x="478.20" y="480.70" font-size="6.5" text-anchor="middle" letter-spacing="0.3" fill="#231f20">81/149</text>
<text x="499.20" y="480.70" font-size="6.5" text-anchor="middle" fill="#231f20">51.4</text>
<text x="259.80" y="490.50" font-size="6.4" fill="#231f20">Elevated</text>
<text x="317.20" y="490.50" font-size="6.5" fill="#231f20">0.97 (0.62-1.52)</text>
<line x1="385.61" y1="488.50" x2="400.22" y2="488.50" stroke="#333" stroke-width="1.15"/>
<line x1="385.61" y1="486.20" x2="385.61" y2="490.80" stroke="#3a3a3a" stroke-width="1.0"/>
<line x1="400.22" y1="486.20" x2="400.22" y2="490.80" stroke="#3a3a3a" stroke-width="1.0"/>
<circle cx="392.90" cy="488.50" r="1.7" fill="#9e1a36"/>
<text x="429.00" y="490.50" font-size="6.5" text-anchor="middle" letter-spacing="0.3" fill="#231f20">41/58</text>
<text x="451.30" y="490.50" font-size="6.5" text-anchor="middle" fill="#231f20">20.3</text>
<text x="478.20" y="490.50" font-size="6.5" text-anchor="middle" letter-spacing="0.3" fill="#231f20">37/52</text>
<text x="499.20" y="490.50" font-size="6.5" text-anchor="middle" fill="#231f20">18.7</text>
<text x="250.20" y="499.40" font-size="6.4" fill="#231f20">Baseline PET SUV</text>
<text x="259.80" y="508.00" font-size="6.4" fill="#231f20">Mild to moderate</text>
<text x="317.20" y="508.00" font-size="6.5" fill="#231f20">0.78 (0.58-1.04)</text>
<line x1="384.52" y1="506.50" x2="394.04" y2="506.50" stroke="#333" stroke-width="1.15"/>
<line x1="384.52" y1="504.20" x2="384.52" y2="508.80" stroke="#3a3a3a" stroke-width="1.0"/>
<line x1="394.04" y1="504.20" x2="394.04" y2="508.80" stroke="#3a3a3a" stroke-width="1.0"/>
<circle cx="389.35" cy="506.50" r="1.7" fill="#9e1a36"/>
<text x="429.00" y="508.00" font-size="6.5" text-anchor="middle" letter-spacing="0.3" fill="#231f20">96/145</text>
<text x="451.30" y="508.00" font-size="6.5" text-anchor="middle" fill="#231f20">24.0</text>
<text x="478.20" y="508.00" font-size="6.5" text-anchor="middle" letter-spacing="0.3" fill="#231f20">82/147</text>
<text x="499.20" y="508.00" font-size="6.5" text-anchor="middle" fill="#231f20">49.2</text>
<text x="259.80" y="517.40" font-size="6.4" fill="#231f20">High</text>
<text x="317.20" y="517.40" font-size="6.5" fill="#231f20">0.93 (0.58-1.51)</text>
<line x1="384.52" y1="515.50" x2="400.12" y2="515.50" stroke="#333" stroke-width="1.15"/>
<line x1="384.52" y1="513.20" x2="384.52" y2="517.80" stroke="#3a3a3a" stroke-width="1.0"/>
<line x1="400.12" y1="513.20" x2="400.12" y2="517.80" stroke="#3a3a3a" stroke-width="1.0"/>
<circle cx="392.22" cy="515.50" r="1.7" fill="#9e1a36"/>
<text x="429.00" y="517.40" font-size="6.5" text-anchor="middle" letter-spacing="0.3" fill="#231f20">34/49</text>
<text x="451.30" y="517.40" font-size="6.5" text-anchor="middle" fill="#231f20">16.0</text>
<text x="478.20" y="517.40" font-size="6.5" text-anchor="middle" letter-spacing="0.3" fill="#231f20">33/48</text>
<text x="499.20" y="517.40" font-size="6.5" text-anchor="middle" fill="#231f20">18.3</text>
<text x="250.20" y="527.30" font-size="6.4" fill="#231f20">Tumor bulk (largest diameter)</text>
<text x="259.80" y="537.20" font-size="6.4" fill="#231f20">≤6 cm</text>
<text x="317.20" y="537.20" font-size="6.5" fill="#231f20">0.75 (0.56-1.01)</text>
<line x1="383.95" y1="535.50" x2="393.56" y2="535.50" stroke="#333" stroke-width="1.15"/>
<line x1="383.95" y1="533.20" x2="383.95" y2="537.80" stroke="#3a3a3a" stroke-width="1.0"/>
<line x1="393.56" y1="533.20" x2="393.56" y2="537.80" stroke="#3a3a3a" stroke-width="1.0"/>
<circle cx="388.71" cy="535.50" r="1.7" fill="#9e1a36"/>
<text x="429.00" y="537.20" font-size="6.5" text-anchor="middle" letter-spacing="0.3" fill="#231f20">95/146</text>
<text x="451.30" y="537.20" font-size="6.5" text-anchor="middle" fill="#231f20">24.0</text>
<text x="478.20" y="537.20" font-size="6.5" text-anchor="middle" letter-spacing="0.3" fill="#231f20">82/151</text>
<text x="499.20" y="537.20" font-size="6.5" text-anchor="middle" fill="#231f20">49.2</text>
<text x="259.80" y="547.00" font-size="6.4" fill="#231f20">&gt;6 cm</text>
<text x="317.20" y="547.00" font-size="6.5" fill="#231f20">0.99 (0.63-1.57)</text>
<line x1="385.87" y1="544.50" x2="400.75" y2="544.50" stroke="#333" stroke-width="1.15"/>
<line x1="385.87" y1="542.20" x2="385.87" y2="546.80" stroke="#3a3a3a" stroke-width="1.0"/>
<line x1="400.75" y1="542.20" x2="400.75" y2="546.80" stroke="#3a3a3a" stroke-width="1.0"/>
<circle cx="393.24" cy="544.50" r="1.7" fill="#9e1a36"/>
<text x="429.00" y="547.00" font-size="6.5" text-anchor="middle" letter-spacing="0.3" fill="#231f20">39/55</text>
<text x="451.30" y="547.00" font-size="6.5" text-anchor="middle" fill="#231f20">20.3</text>
<text x="478.20" y="547.00" font-size="6.5" text-anchor="middle" letter-spacing="0.3" fill="#231f20">36/50</text>
<text x="499.20" y="547.00" font-size="6.5" text-anchor="middle" fill="#231f20">16.4</text>
<text x="250.20" y="555.80" font-size="6.4" fill="#231f20">PRIMA PI</text>
<text x="259.80" y="565.70" font-size="6.4" fill="#231f20">High risk</text>
<text x="317.20" y="565.70" font-size="6.5" fill="#231f20">0.80 (0.51-1.27)</text>
<line x1="382.42" y1="563.50" x2="397.30" y2="563.50" stroke="#333" stroke-width="1.15"/>
<line x1="382.42" y1="561.20" x2="382.42" y2="565.80" stroke="#3a3a3a" stroke-width="1.0"/>
<line x1="397.30" y1="561.20" x2="397.30" y2="565.80" stroke="#3a3a3a" stroke-width="1.0"/>
<circle cx="389.76" cy="563.50" r="1.7" fill="#9e1a36"/>
<text x="429.00" y="565.70" font-size="6.5" text-anchor="middle" letter-spacing="0.3" fill="#231f20">36/46</text>
<text x="451.30" y="565.70" font-size="6.5" text-anchor="middle" fill="#231f20">16.6</text>
<text x="478.20" y="565.70" font-size="6.5" text-anchor="middle" letter-spacing="0.3" fill="#231f20">37/54</text>
<text x="499.20" y="565.70" font-size="6.5" text-anchor="middle" fill="#231f20">18.7</text>
<text x="259.80" y="575.30" font-size="6.4" fill="#231f20">Medium risk</text>
<text x="317.20" y="575.30" font-size="6.5" fill="#231f20">0.67 (0.39-1.17)</text>
<line x1="378.05" y1="573.50" x2="395.96" y2="573.50" stroke="#333" stroke-width="1.15"/>
<line x1="378.05" y1="571.20" x2="378.05" y2="575.80" stroke="#3a3a3a" stroke-width="1.0"/>
<line x1="395.96" y1="571.20" x2="395.96" y2="575.80" stroke="#3a3a3a" stroke-width="1.0"/>
<circle cx="386.87" cy="573.50" r="1.7" fill="#9e1a36"/>
<text x="429.00" y="575.30" font-size="6.5" text-anchor="middle" letter-spacing="0.3" fill="#231f20">28/41</text>
<text x="451.30" y="575.30" font-size="6.5" text-anchor="middle" fill="#231f20">20.3</text>
<text x="478.20" y="575.30" font-size="6.5" text-anchor="middle" letter-spacing="0.3" fill="#231f20">23/43</text>
<text x="499.20" y="575.30" font-size="6.5" text-anchor="middle" fill="#231f20">52.2</text>
<text x="259.80" y="583.90" font-size="6.4" fill="#231f20">Low risk</text>
<text x="317.20" y="583.90" font-size="6.5" fill="#231f20">0.85 (0.60-1.21)</text>
<line x1="385.07" y1="581.50" x2="396.51" y2="581.50" stroke="#333" stroke-width="1.15"/>
<line x1="385.07" y1="579.20" x2="385.07" y2="583.80" stroke="#3a3a3a" stroke-width="1.0"/>
<line x1="396.51" y1="579.20" x2="396.51" y2="583.80" stroke="#3a3a3a" stroke-width="1.0"/>
<circle cx="390.75" cy="581.50" r="1.7" fill="#9e1a36"/>
<text x="429.00" y="583.90" font-size="6.5" text-anchor="middle" letter-spacing="0.3" fill="#231f20">67/111</text>
<text x="451.30" y="583.90" font-size="6.5" text-anchor="middle" fill="#231f20">34.8</text>
<text x="478.20" y="583.90" font-size="6.5" text-anchor="middle" letter-spacing="0.3" fill="#231f20">58/104</text>
<text x="499.20" y="583.90" font-size="6.5" text-anchor="middle" fill="#231f20">49.2</text>
<text x="250.20" y="593.00" font-size="6.4" fill="#231f20">POD24</text>
<text x="259.80" y="603.30" font-size="6.4" fill="#231f20">≤24 months</text>
<text x="317.20" y="603.30" font-size="6.5" fill="#231f20">0.78 (0.56-1.07)</text>
<line x1="383.95" y1="601.50" x2="394.50" y2="601.50" stroke="#333" stroke-width="1.15"/>
<line x1="383.95" y1="599.20" x2="383.95" y2="603.80" stroke="#3a3a3a" stroke-width="1.0"/>
<line x1="394.50" y1="599.20" x2="394.50" y2="603.80" stroke="#3a3a3a" stroke-width="1.0"/>
<circle cx="389.35" cy="601.50" r="1.7" fill="#9e1a36"/>
<text x="429.00" y="603.30" font-size="6.5" text-anchor="middle" letter-spacing="0.3" fill="#231f20">89/118</text>
<text x="451.30" y="603.30" font-size="6.5" text-anchor="middle" fill="#231f20">20.0</text>
<text x="478.20" y="603.30" font-size="6.5" text-anchor="middle" letter-spacing="0.3" fill="#231f20">65/101</text>
<text x="499.20" y="603.30" font-size="6.5" text-anchor="middle" fill="#231f20">27.6</text>
<text x="259.80" y="613.20" font-size="6.4" fill="#231f20">&gt;24 months</text>
<text x="317.20" y="613.20" font-size="6.5" fill="#231f20">0.96 (0.64-1.42)</text>
<line x1="386.13" y1="610.50" x2="399.12" y2="610.50" stroke="#333" stroke-width="1.15"/>
<line x1="386.13" y1="608.20" x2="386.13" y2="612.80" stroke="#3a3a3a" stroke-width="1.0"/>
<line x1="399.12" y1="608.20" x2="399.12" y2="612.80" stroke="#3a3a3a" stroke-width="1.0"/>
<circle cx="392.73" cy="610.50" r="1.7" fill="#9e1a36"/>
<text x="429.00" y="613.20" font-size="6.5" text-anchor="middle" letter-spacing="0.3" fill="#231f20">45/83</text>
<text x="451.30" y="613.20" font-size="6.5" text-anchor="middle" fill="#231f20">45.2</text>
<text x="478.20" y="613.20" font-size="6.5" text-anchor="middle" letter-spacing="0.3" fill="#231f20">54/100</text>
<text x="499.20" y="613.20" font-size="6.5" text-anchor="middle" fill="#231f20">57.0</text>
<line x1="102.60" y1="623.60" x2="153.80" y2="623.60" stroke="#231f20" stroke-width="1.1"/>
<line x1="116.30" y1="623.60" x2="116.30" y2="626.80" stroke="#231f20" stroke-width="0.9"/>
<line x1="123.40" y1="623.60" x2="123.40" y2="626.80" stroke="#231f20" stroke-width="0.9"/>
<line x1="130.60" y1="623.60" x2="130.60" y2="626.80" stroke="#231f20" stroke-width="0.9"/>
<line x1="137.30" y1="623.60" x2="137.30" y2="626.80" stroke="#231f20" stroke-width="0.9"/>
<line x1="142.20" y1="623.60" x2="142.20" y2="626.80" stroke="#231f20" stroke-width="0.9"/>
<line x1="146.30" y1="623.60" x2="146.30" y2="626.80" stroke="#231f20" stroke-width="0.9"/>
<line x1="150.50" y1="623.60" x2="150.50" y2="626.80" stroke="#231f20" stroke-width="0.9"/>
<text x="113.20" y="636.00" font-size="6.5" text-anchor="middle" fill="#231f20">0.4</text>
<text x="124.50" y="636.00" font-size="6.5" text-anchor="middle" fill="#231f20">0.6</text>
<text x="137.30" y="636.00" font-size="6.5" text-anchor="middle" fill="#231f20">1</text>
<text x="150.40" y="636.00" font-size="6.5" text-anchor="middle" fill="#231f20">1.6</text>
<line x1="370.50" y1="623.60" x2="423.00" y2="623.60" stroke="#231f20" stroke-width="1.1"/>
<line x1="382.20" y1="623.60" x2="382.20" y2="626.80" stroke="#231f20" stroke-width="0.9"/>
<line x1="393.40" y1="623.60" x2="393.40" y2="626.80" stroke="#231f20" stroke-width="0.9"/>
<line x1="400.00" y1="623.60" x2="400.00" y2="626.80" stroke="#231f20" stroke-width="0.9"/>
<line x1="405.20" y1="623.60" x2="405.20" y2="626.80" stroke="#231f20" stroke-width="0.9"/>
<line x1="409.50" y1="623.60" x2="409.50" y2="626.80" stroke="#231f20" stroke-width="0.9"/>
<line x1="412.30" y1="623.60" x2="412.30" y2="626.80" stroke="#231f20" stroke-width="0.9"/>
<line x1="414.60" y1="623.60" x2="414.60" y2="626.80" stroke="#231f20" stroke-width="0.9"/>
<line x1="416.50" y1="623.60" x2="416.50" y2="626.80" stroke="#231f20" stroke-width="0.9"/>
<line x1="418.50" y1="623.60" x2="418.50" y2="626.80" stroke="#231f20" stroke-width="0.9"/>
<text x="382.00" y="636.00" font-size="6.5" text-anchor="middle" fill="#231f20">0.5</text>
<text x="393.40" y="636.00" font-size="6.5" text-anchor="middle" fill="#231f20">1</text>
<text x="405.00" y="636.00" font-size="6.5" text-anchor="middle" fill="#231f20">2</text>
<text x="418.00" y="636.00" font-size="6.5" text-anchor="middle" fill="#231f20">4.5</text>
<text x="51.90" y="646.90" font-size="6.5" fill="#231f20">Favor ibrutinib + CIT</text>
<text x="138.30" y="646.90" font-size="6.5" fill="#231f20">Favor placebo + CIT</text>
<line x1="48.20" y1="649.80" x2="109.60" y2="649.80" stroke="#231f20" stroke-width="1.1"/>
<path d="M44.20,649.8 L49.70,647.5 L49.70,652.1Z" fill="#111"/>
<line x1="137.30" y1="649.80" x2="199.70" y2="649.80" stroke="#231f20" stroke-width="1.1"/>
<path d="M203.70,649.8 L198.20,647.5 L198.20,652.1Z" fill="#111"/>
<text x="135.50" y="659.10" font-size="6.5" text-anchor="middle" fill="#231f20">Hazard ratio and 95% CI</text>
<text x="308.80" y="646.90" font-size="6.5" fill="#231f20">Favor ibrutinib + CIT</text>
<text x="394.60" y="646.90" font-size="6.5" fill="#231f20">Favor placebo + CIT</text>
<line x1="304.80" y1="649.80" x2="367.20" y2="649.80" stroke="#231f20" stroke-width="1.1"/>
<path d="M300.80,649.8 L306.30,647.5 L306.30,652.1Z" fill="#111"/>
<line x1="394.20" y1="649.80" x2="456.40" y2="649.80" stroke="#231f20" stroke-width="1.1"/>
<path d="M460.40,649.8 L454.90,647.5 L454.90,652.1Z" fill="#111"/>
<text x="391.70" y="659.10" font-size="6.5" text-anchor="middle" fill="#231f20">Hazard ratio and 95% CI</text></svg>
</body></html>
